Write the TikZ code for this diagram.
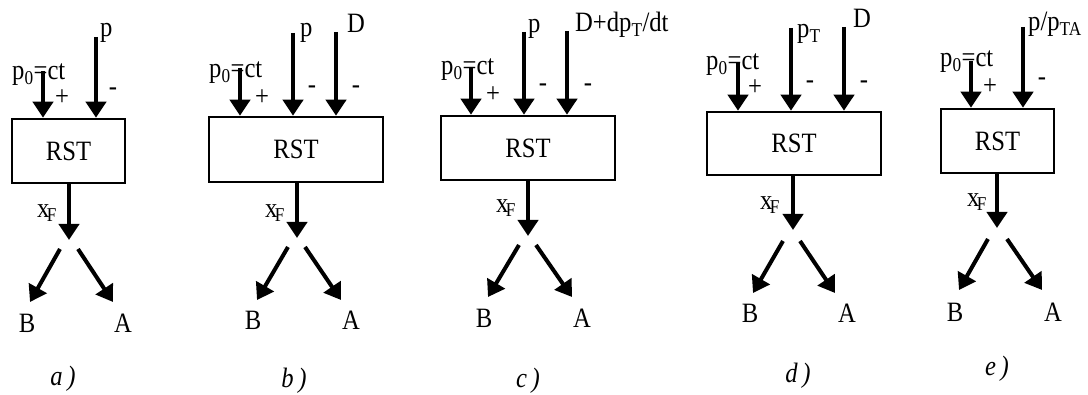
\documentclass[tikz,border=0pt]{standalone}
\usepackage{fontspec}
\setmainfont{Liberation Serif}[FakeStretch=0.88]
\usetikzlibrary{arrows.meta}
\newcommand\xf{x\kern-2.5pt\textsubscript{F}}
\newcommand\pz{p\textsubscript{0}=ct}
\begin{document}
\begin{tikzpicture}[x=1pt,y=-1pt,
  txt/.style={inner sep=0pt,font=\fontsize{28}{28}\selectfont},
  lbl/.style={txt,anchor=base west},
  sgn/.style={txt},
  captxt/.style={txt,font=\fontsize{28}{28}\selectfont\itshape},
  blk/.style={draw,line width=2.5pt,inner sep=0pt,font=\fontsize{28}{28}\selectfont},
  arr/.style={line width=4pt,-{Triangle[width=20pt,length=16pt]}}]
\useasboundingbox (0,0) rectangle (1088,395);

% ---------- a) ----------
\node[blk,minimum width=113,minimum height=64] (ba) at (68.5,151) {RST};
\coordinate (a1) at (43,71); \coordinate (a2) at (96,37);
\draw[arr] (a1) -- (a1 |- ba.north);
\draw[arr] (a2) -- (a2 |- ba.north);
\node[lbl] (la1) at (12,80) {\pz};
\node[lbl] (la2) at (100,37) {p};
\node[sgn] (sa1) at (62,98) {+};
\node[sgn] (sa2) at (113,92) {-};
\coordinate (aj) at (69,240);
\draw[arr] (aj |- ba.south) -- (aj);
\node[txt] (xa) at (47,213) {\xf};
\coordinate (ab1) at (60,249); \coordinate (ab2) at (30,302);
\coordinate (aa1) at (78,249); \coordinate (aa2) at (113,302);
\draw[arr] (ab1) -- (ab2);
\draw[arr] (aa1) -- (aa2);
\node[txt] (aB) at (27,323) {B};
\node[txt] (aA) at (123,323) {A};
\node[captxt] (ca) at (63,379) {a\,)};

% ---------- b) ----------
\node[blk,minimum width=174,minimum height=65] (bb) at (296,149.5) {RST};
\coordinate (b1) at (240,68); \coordinate (b2) at (293,33); \coordinate (b3) at (336,32);
\draw[arr] (b1) -- (b1 |- bb.north);
\draw[arr] (b2) -- (b2 |- bb.north);
\draw[arr] (b3) -- (b3 |- bb.north);
\node[lbl] (lb1) at (209,78) {\pz};
\node[lbl] (lb2) at (300,37) {p};
\node[lbl] (lb3) at (347,33) {D};
\node[sgn] (sb1) at (262,98) {+};
\node[sgn] (sb2) at (312,90) {-};
\node[sgn] (sb3) at (356,90) {-};
\coordinate (bj) at (297,238);
\draw[arr] (bj |- bb.south) -- (bj);
\node[txt] (xb) at (275,213) {\xf};
\coordinate (bb1) at (288,247); \coordinate (bb2) at (257,300);
\coordinate (ba1) at (305,247); \coordinate (ba2) at (341,300);
\draw[arr] (bb1) -- (bb2);
\draw[arr] (ba1) -- (ba2);
\node[txt] (bB) at (253,320) {B};
\node[txt] (bA) at (351,320) {A};
\node[captxt] (cb) at (294,381) {b\,)};

% ---------- c) ----------
\node[blk,minimum width=174,minimum height=64] (bc) at (528,148) {RST};
\coordinate (c1) at (471,67); \coordinate (c2) at (524,32); \coordinate (c3) at (567,31);
\draw[arr] (c1) -- (c1 |- bc.north);
\draw[arr] (c2) -- (c2 |- bc.north);
\draw[arr] (c3) -- (c3 |- bc.north);
\node[lbl] (lc1) at (441,75) {\pz};
\node[lbl] (lc2) at (528,33) {p};
\node[lbl] (lc3) at (575,32) {D+dp\textsubscript{T}/dt};
\node[sgn] (sc1) at (493,95) {+};
\node[sgn] (sc2) at (543,88) {-};
\node[sgn] (sc3) at (588,88) {-};
\coordinate (cj) at (528,236);
\draw[arr] (cj |- bc.south) -- (cj);
\node[txt] (xc) at (506,208) {\xf};
\coordinate (cb1) at (519,245); \coordinate (cb2) at (488,297);
\coordinate (ca1) at (536,245); \coordinate (ca2) at (572,297);
\draw[arr] (cb1) -- (cb2);
\draw[arr] (ca1) -- (ca2);
\node[txt] (cB) at (484,318) {B};
\node[txt] (cA) at (582,318) {A};
\node[captxt] (cc) at (528,381) {c\,)};

% ---------- d) ----------
\node[blk,minimum width=174,minimum height=63] (bd) at (794,143.5) {RST};
\coordinate (d1) at (738,63); \coordinate (d2) at (791,28); \coordinate (d3) at (844,27);
\draw[arr] (d1) -- (d1 |- bd.north);
\draw[arr] (d2) -- (d2 |- bd.north);
\draw[arr] (d3) -- (d3 |- bd.north);
\node[lbl] (ld1) at (706,70) {\pz};
\node[lbl] (ld2) at (797,38) {p\textsubscript{T}};
\node[lbl] (ld3) at (853,28) {D};
\node[sgn] (sd1) at (755,88) {+};
\node[sgn] (sd2) at (810,85) {-};
\node[sgn] (sd3) at (864,85) {-};
\coordinate (dj) at (793,230);
\draw[arr] (dj |- bd.south) -- (dj);
\node[txt] (xd) at (770,205) {\xf};
\coordinate (db1) at (783,241); \coordinate (db2) at (753,293);
\coordinate (da1) at (800,241); \coordinate (da2) at (835,293);
\draw[arr] (db1) -- (db2);
\draw[arr] (da1) -- (da2);
\node[txt] (dB) at (750,313) {B};
\node[txt] (dA) at (847,313) {A};
\node[captxt] (cd) at (798,376) {d\,)};

% ---------- e) ----------
\node[blk,minimum width=113,minimum height=64] (be) at (997.5,141) {RST};
\coordinate (e1) at (971,61); \coordinate (e2) at (1023,27);
\draw[arr] (e1) -- (e1 |- be.north);
\draw[arr] (e2) -- (e2 |- be.north);
\node[lbl] (le1) at (940,67) {\pz};
\node[lbl] (le2) at (1028,31) {p/p\textsubscript{TA}};
\node[sgn] (se1) at (990,87) {+};
\node[sgn] (se2) at (1042,82) {-};
\coordinate (ej) at (997,228);
\draw[arr] (ej |- be.south) -- (ej);
\node[txt] (xe) at (977,202) {\xf};
\coordinate (eb1) at (988,239); \coordinate (eb2) at (959,290);
\coordinate (ea1) at (1007,239); \coordinate (ea2) at (1042,290);
\draw[arr] (eb1) -- (eb2);
\draw[arr] (ea1) -- (ea2);
\node[txt] (eB) at (955,312) {B};
\node[txt] (eA) at (1053,312) {A};
\node[captxt] (ce) at (997,369) {e\,)};
\end{tikzpicture}
\end{document}
